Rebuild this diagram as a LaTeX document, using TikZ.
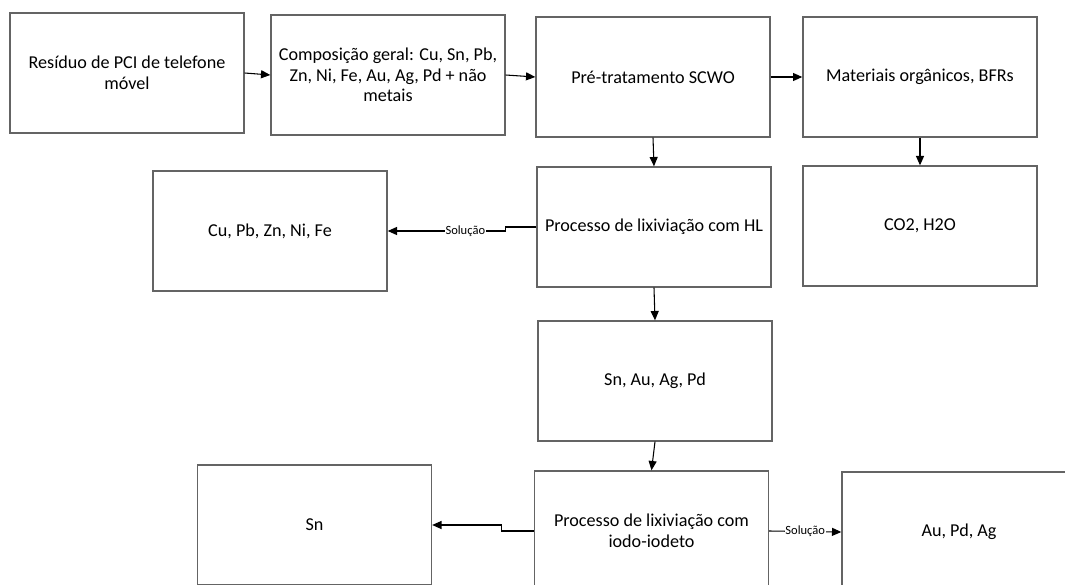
\documentclass[tikz,border=0pt]{standalone}
\usepackage{fontspec}
\setmainfont{Carlito}
\usepackage{tikz}
\usetikzlibrary{arrows.meta}
\definecolor{borda}{RGB}{100,100,100}
\tikzset{
    caixa/.style={draw=borda, line width=1pt, fill=white, align=center,
        minimum width=175.5pt, minimum height=90pt, inner sep=2pt,
        font=\fontsize{13.6}{15.5}\selectfont},
    seta/.style={draw=black, line width=0.8pt,
        -{Triangle[length=7pt,width=6pt]}},
    rotulo/.style={fill=white, inner sep=0.6pt, font=\fontsize{9.4}{11}\selectfont},
}

\begin{document}
\begin{tikzpicture}[x=0.75pt,y=-0.75pt]
    \useasboundingbox (0,0) rectangle (1065,585);
    \clip (0,0) rectangle (1065,585);
    \fill[white] (0,0) rectangle (1065,585);
    % linha de cima
    \node[caixa] (residuo) at (127,73) {Resíduo de PCI de telefone\\móvel};
    \node[caixa] (composicao) at (388,75) {Composição geral: Cu, Sn, Pb,\\Zn, Ni, Fe, Au, Ag, Pd + não\\metais};
    \node[caixa] (pretrat) at (653,77) {Pré-tratamento SCWO};
    \node[caixa] (organicos) at (920,77) {Materiais orgânicos, BFRs};
    % lixiviacao com HL
    \node[caixa] (lixhl) at (654,227) {Processo de lixiviação com HL};
    \node[caixa] (gases) at (920,226) {CO2, H2O};
    \node[caixa] (metaisbase) at (270,231) {Cu, Pb, Zn, Ni, Fe};
    \node[caixa] (residuohl) at (655,381) {Sn, Au, Ag, Pd};
    % lixiviacao com iodo
    \node[caixa] (lixiodo) at (651.5,531) {Processo de lixiviação com\\iodo-iodeto};
    \node[caixa] (estanho) at (314.5,525) {Sn};
    \node[caixa] (nobres) at (959,532) {Au, Pd, Ag};

    \draw[seta] (residuo.east) -- (composicao.west);
    \draw[seta] (composicao.east) -- (pretrat.west);
    \draw[seta] (pretrat.east) -- (organicos.west);
    \draw[seta] (pretrat.south) -- (lixhl.north);
    \draw[seta] (organicos.south) -- (gases.north);
    \draw[seta] (lixhl.west) -- ++(-31,0) |- (metaisbase.east) node[rotulo, pos=0.67] {Solução};
    \draw[seta] (lixhl.south) -- (residuohl.north);
    \draw[seta] (residuohl.south) -- (lixiodo.north);
    \draw[seta] (lixiodo.west) -- ++(-32,0) |- (estanho.east);
    \draw[seta] (lixiodo.east) -- (nobres.west) node[rotulo, midway] {Solução};
\end{tikzpicture}
\end{document}
